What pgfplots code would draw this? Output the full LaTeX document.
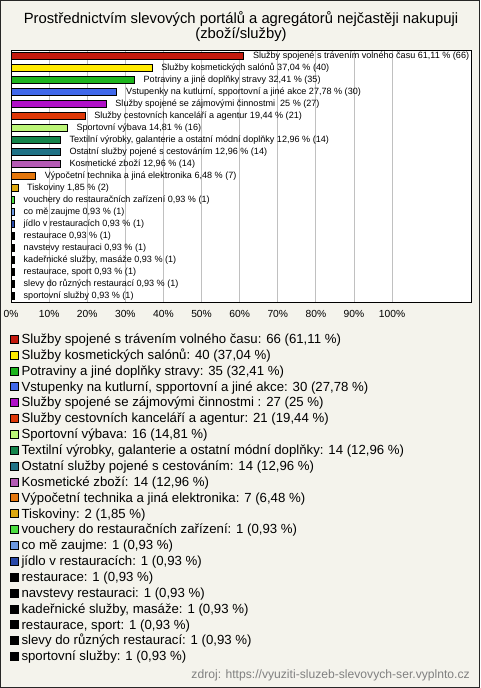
\documentclass[border=0pt]{standalone}
\usepackage{pgfplots}
\pgfplotsset{compat=1.18}
\usepackage{fontspec}
\setmainfont{Liberation Sans}
\definecolor{bgc}{HTML}{F4F3EC}
\definecolor{gridc}{HTML}{C0C0C0}
\definecolor{c1}{HTML}{C41A0E}
\definecolor{c2}{HTML}{FFEA00}
\definecolor{c3}{HTML}{1DB51D}
\definecolor{c4}{HTML}{4068EA}
\definecolor{c5}{HTML}{B010C8}
\definecolor{c6}{HTML}{DE3808}
\definecolor{c7}{HTML}{BBF577}
\definecolor{c8}{HTML}{13844A}
\definecolor{c9}{HTML}{1F7286}
\definecolor{c10}{HTML}{B45AB4}
\definecolor{c11}{HTML}{E3760C}
\definecolor{c12}{HTML}{DDA810}
\definecolor{c13}{HTML}{4CDD40}
\definecolor{c14}{HTML}{6C98E0}
\definecolor{c15}{HTML}{2848A8}
\definecolor{c16}{HTML}{000000}
\pgfplotsset{
  hb/.style={xbar, bar width=4.8pt, bar shift=0pt, draw=black, line width=0.75pt, fill=#1,
    legend image code/.code={\draw[fill=#1, draw=black, line width=0.6pt] (0pt,-2.1pt) rectangle (6pt,3.9pt);}},
}
\begin{document}
\begin{tikzpicture}[x=1pt,y=1pt]
\useasboundingbox (0,0) rectangle (360,-516);
\fill[bgc] (0,0) rectangle (360,-516);
\draw[line width=0.75pt, black!85] (0.375,-0.375) rectangle (359.625,-515.625);
\begin{axis}[
  at={(8.25pt,-37.5pt)}, anchor=north west, scale only axis,
  width=345pt, height=189pt,
  xmin=0, xmax=120.7, ymin=0.5, ymax=21.5, y dir=reverse,
  clip=false,
  axis background/.style={fill=white},
  axis line style={black, line width=0.75pt},
  xtick={0,10,20,30,40,50,60,70,80,90,100},
  xticklabels={0\%,10\%,20\%,30\%,40\%,50\%,60\%,70\%,80\%,90\%,100\%},
  xticklabel style={font=\fontsize{7.7}{9}\selectfont, inner sep=0pt, anchor=north, yshift=-6pt},
  ytick=\empty,
  major tick length=0pt,
  xmajorgrids,
  major grid style={draw=gridc, line width=0.75pt},
  title={Prostřednictvím slevových portálů a agregátorů nejčastěji nakupuji\\(zboží/služby)},
  title style={at={(0.5,1)}, anchor=south, yshift=0.5pt, align=center, inner sep=0pt,
    font=\fontsize{11.1}{11.25}\selectfont},
  point meta=explicit symbolic,
  nodes near coords,
  every node near coord/.append style={anchor=west, font=\fontsize{6.8}{7}\selectfont, inner sep=0pt, xshift=6.5pt},
  legend cell align=left,
  legend style={at={(0,0)}, anchor=north west, xshift=-1.3pt, yshift=-24.3pt,
    draw=none, fill=none, inner sep=0pt, font=\fontsize{9.9}{10}\selectfont,
    row sep=3.3pt, nodes={inner sep=0pt, text height=6.6pt, text depth=2pt},
    /tikz/every odd column/.append style={column sep=2.4pt}},
]
\addplot[hb=c1] coordinates {(61.11,1) [Služby spojené s trávením volného času 61,11 \% (66)]};
\addlegendentry{Služby spojené s trávením volného času: 66 (61,11 \%)}
\addplot[hb=c2] coordinates {(37.04,2) [Služby kosmetických salónů 37,04 \% (40)]};
\addlegendentry{Služby kosmetických salónů: 40 (37,04 \%)}
\addplot[hb=c3] coordinates {(32.41,3) [Potraviny a jiné doplňky stravy 32,41 \% (35)]};
\addlegendentry{Potraviny a jiné doplňky stravy: 35 (32,41 \%)}
\addplot[hb=c4] coordinates {(27.78,4) [Vstupenky na kutlurní, spportovní a jiné akce 27,78 \% (30)]};
\addlegendentry{Vstupenky na kutlurní, spportovní a jiné akce: 30 (27,78 \%)}
\addplot[hb=c5] coordinates {(25,5) [Služby spojené se zájmovými činnostmi \ 25 \% (27)]};
\addlegendentry{Služby spojené se zájmovými činnostmi : 27 (25 \%)}
\addplot[hb=c6] coordinates {(19.44,6) [Služby cestovních kanceláří a agentur 19,44 \% (21)]};
\addlegendentry{Služby cestovních kanceláří a agentur: 21 (19,44 \%)}
\addplot[hb=c7] coordinates {(14.81,7) [Sportovní výbava 14,81 \% (16)]};
\addlegendentry{Sportovní výbava: 16 (14,81 \%)}
\addplot[hb=c8] coordinates {(12.96,8) [Textilní výrobky, galanterie a ostatní módní doplňky 12,96 \% (14)]};
\addlegendentry{Textilní výrobky, galanterie a ostatní módní doplňky: 14 (12,96 \%)}
\addplot[hb=c9] coordinates {(12.96,9) [Ostatní služby pojené s cestováním 12,96 \% (14)]};
\addlegendentry{Ostatní služby pojené s cestováním: 14 (12,96 \%)}
\addplot[hb=c10] coordinates {(12.96,10) [Kosmetické zboží 12,96 \% (14)]};
\addlegendentry{Kosmetické zboží: 14 (12,96 \%)}
\addplot[hb=c11] coordinates {(6.48,11) [Výpočetní technika a jiná elektronika 6,48 \% (7)]};
\addlegendentry{Výpočetní technika a jiná elektronika: 7 (6,48 \%)}
\addplot[hb=c12] coordinates {(1.85,12) [Tiskoviny 1,85 \% (2)]};
\addlegendentry{Tiskoviny: 2 (1,85 \%)}
\addplot[hb=c13] coordinates {(0.93,13) [vouchery do restauračních zařízení 0,93 \% (1)]};
\addlegendentry{vouchery do restauračních zařízení: 1 (0,93 \%)}
\addplot[hb=c14] coordinates {(0.93,14) [co mě zaujme 0,93 \% (1)]};
\addlegendentry{co mě zaujme: 1 (0,93 \%)}
\addplot[hb=c15] coordinates {(0.93,15) [jídlo v restauracích 0,93 \% (1)]};
\addlegendentry{jídlo v restauracích: 1 (0,93 \%)}
\addplot[hb=c16] coordinates {(0.93,16) [restaurace 0,93 \% (1)]};
\addlegendentry{restaurace: 1 (0,93 \%)}
\addplot[hb=c16] coordinates {(0.93,17) [navstevy restauraci 0,93 \% (1)]};
\addlegendentry{navstevy restauraci: 1 (0,93 \%)}
\addplot[hb=c16] coordinates {(0.93,18) [kadeřnické služby, masáže 0,93 \% (1)]};
\addlegendentry{kadeřnické služby, masáže: 1 (0,93 \%)}
\addplot[hb=c16] coordinates {(0.93,19) [restaurace, sport 0,93 \% (1)]};
\addlegendentry{restaurace, sport: 1 (0,93 \%)}
\addplot[hb=c16] coordinates {(0.93,20) [slevy do různých restaurací 0,93 \% (1)]};
\addlegendentry{slevy do různých restaurací: 1 (0,93 \%)}
\addplot[hb=c16] coordinates {(0.93,21) [sportovní služby 0,93 \% (1)]};
\addlegendentry{sportovní služby: 1 (0,93 \%)}
\end{axis}
\node[anchor=east, inner sep=0pt, font=\fontsize{9.1}{10}\selectfont, text=black!50] at (352.5,-506.25) {zdroj: https://vyuziti-sluzeb-slevovych-ser.vyplnto.cz};
\end{tikzpicture}
\end{document}
